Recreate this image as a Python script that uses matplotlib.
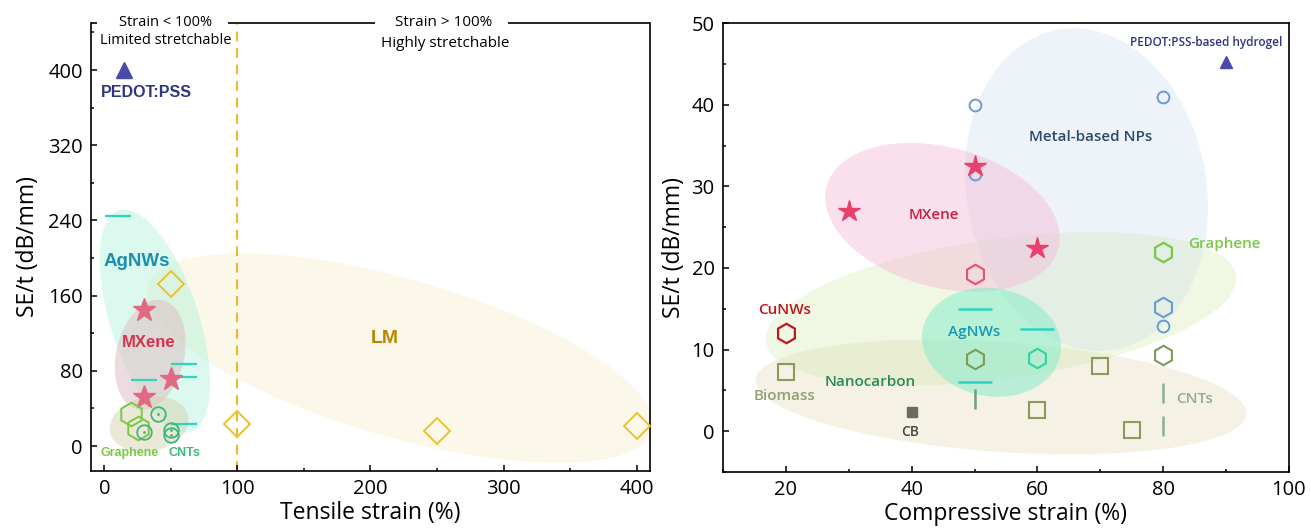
import matplotlib
matplotlib.use("Agg")
import matplotlib.pyplot as plt
from matplotlib.patches import Ellipse
from matplotlib.transforms import ScaledTranslation
from matplotlib.ticker import MultipleLocator

# ---- left panel: tensile strain ----
t_pedot_x = [15]
t_pedot_y = [400]
t_agnw_x = [10, 60, 60, 30, 60]
t_agnw_y = [245, 87, 74, 70, 24]
t_lm_x = [50, 100, 250, 400]
t_lm_y = [172, 24, 16, 21]
t_mxene_x = [30, 50, 30]
t_mxene_y = [145, 71, 52]
t_graphene_x = [20, 25]
t_graphene_y = [34, 19]
t_cnt_x = [40, 30, 50, 50]
t_cnt_y = [34, 15, 17, 12]
t_xticks = [0, 100, 200, 300, 400]
t_yticks = [0, 80, 160, 240, 320, 400]

# ---- right panel: compressive strain ----
c_pedot_x = [90]
c_pedot_y = [45.2]
c_metal_x = [50, 50, 80, 80]
c_metal_y = [40, 31.5, 41, 12.9]
c_metal_hex_x = [80]
c_metal_hex_y = [15.2]
c_mxene_x = [30, 50, 60]
c_mxene_y = [27, 32.5, 22.4]
c_mxene_hex_x = [50]
c_mxene_hex_y = [19.2]
c_cunw_x = [20]
c_cunw_y = [12]
c_biomass_x = [20]
c_biomass_y = [7.2]
c_cb_x = [40]
c_cb_y = [2.3]
c_agnw_x = [50, 60, 50]
c_agnw_y = [15, 12.5, 6]
c_nano_hex_x = [50, 80]
c_nano_hex_y = [8.9, 9.3]
c_teal_hex_x = [60]
c_teal_hex_y = [9.0]
c_nano_sq_x = [60, 70, 75]
c_nano_sq_y = [2.6, 8, 0.2]
c_nano_bar_x = [50]
c_nano_bar_y = [3.9]
c_graphene_x = [80]
c_graphene_y = [22]
c_cnt_x = [80, 80]
c_cnt_y = [4.7, 0.7]
c_xticks = [20, 40, 60, 80, 100]
c_yticks = [0, 10, 20, 30, 40, 50]

TICKFONT = "Open Sans"
BOLDFONT = "Liberation Sans"

fig = plt.figure(figsize=(13.11, 5.31), dpi=100)
axL = fig.add_axes([0.0694, 0.113, 0.4264, 0.8437])
axR = fig.add_axes([0.5515, 0.111, 0.4317, 0.8456])


def blob(ax, x, y, w, h, angle, color, alpha):
    # ellipse centred on a data point, size given in pixels so it keeps its shape
    trans = fig.dpi_scale_trans + ScaledTranslation(x, y, ax.transData)
    e = Ellipse((0, 0), w / 100, h / 100, angle=angle, transform=trans,
                facecolor=color, edgecolor="none", alpha=alpha, zorder=0)
    ax.add_patch(e)


def style(ax, xticks, yticks, xminor, yminor):
    for s in ax.spines.values():
        s.set_linewidth(1.2)
    ax.set_xticks(xticks)
    ax.set_yticks(yticks)
    ax.xaxis.set_minor_locator(MultipleLocator(xminor))
    ax.yaxis.set_minor_locator(MultipleLocator(yminor))
    ax.tick_params(which="both", direction="in", width=1.1, top=False, right=False)
    ax.tick_params(which="major", length=4.5, pad=6)
    ax.tick_params(which="minor", length=2.5)
    for lab in ax.get_xticklabels() + ax.get_yticklabels():
        lab.set_fontfamily(TICKFONT)
        lab.set_fontsize(14.5)


# ================= left =================
ax = axL
ax.set_xlim(-10, 410)
ax.set_ylim(-26.5, 450)
style(ax, t_xticks, t_yticks, 50, 40)
ax.spines["top"].set_visible(False)
for a, b in [(0, 0.011), (0.245, 0.508), (0.746, 1.0)]:
    ax.plot([a, b], [1, 1], color="black", lw=1.2, transform=ax.transAxes,
            clip_on=False, solid_capstyle="butt")

blob(ax, 222, 93.5, 525, 158, -16, "#F8E8B8", 0.3)
blob(ax, 38, 133, 233, 88, -72, "#A8F0D8", 0.4)
blob(ax, 34.5, 97, 112, 68, 77, "#DDBBC0", 0.5)
blob(ax, 33.7, 23.4, 80, 54, 12, "#D6D3AE", 0.5)

ax.axvline(100, color="#F2B51E", lw=1.4, ls=(0, (5, 3.5)), zorder=1)

ax.plot(t_pedot_x, t_pedot_y, "^", color="#4A4AAE", ms=11, zorder=3)
ax.plot(t_agnw_x, t_agnw_y, "_", color="#2DD4C0", ms=19, mew=1.6, zorder=3)
ax.plot(t_lm_x, t_lm_y, "D", mfc="none", mec="#EBC12E", ms=13, mew=1.4, zorder=3)
ax.plot(t_mxene_x, t_mxene_y, "*", color="#E06A84", ms=17, zorder=3)
ax.plot(t_graphene_x, t_graphene_y, "h", mfc="none", mec="#7AC943", ms=17, mew=1.4, zorder=3)
ax.plot(t_cnt_x, t_cnt_y, "o", mfc="none", mec="#3DB87A", ms=10.5, mew=1.3, zorder=3)
ax.plot(t_cnt_x, t_cnt_y, ".", color="#3DB87A", ms=2, zorder=3)

ax.text(31.5, 376, "PEDOT:PSS", color="#2E3580", fontsize=11.5, fontweight="bold",
        family=BOLDFONT, ha="center", va="center")
ax.text(24.7, 196, "AgNWs", color="#1A8FAF", fontsize=13.5, fontweight="bold",
        family=BOLDFONT, ha="center", va="center")
ax.text(33, 110, "MXene", color="#D6334F", fontsize=12, fontweight="bold",
        family=BOLDFONT, ha="center", va="center")
ax.text(18.7, -7.4, "Graphene", color="#7AC943", fontsize=9, fontweight="bold",
        family=BOLDFONT, ha="center", va="center")
ax.text(60, -7.4, "CNTs", color="#3DB87A", fontsize=9, fontweight="bold",
        family=BOLDFONT, ha="center", va="center")
ax.text(211, 114, "LM", color="#B38A00", fontsize=14, fontweight="bold",
        family=BOLDFONT, ha="center", va="center")

ax.text(46, 450, "Strain < 100%", fontsize=10.5, family=TICKFONT, ha="center", va="center")
ax.text(46, 431, "Limited stretchable", fontsize=10.5, family=TICKFONT, ha="center", va="center")
ax.text(255, 450, "Strain > 100%", fontsize=11, family=TICKFONT, ha="center", va="center")
ax.text(256, 428, "Highly stretchable", fontsize=11, family=TICKFONT, ha="center", va="center")

ax.set_xlabel("Tensile strain (%)", fontsize=16.5, family=TICKFONT, labelpad=1)
ax.set_ylabel("SE/t (dB/mm)", fontsize=16.5, family=TICKFONT, labelpad=6)

# ================= right =================
ax = axR
ax.set_xlim(10, 100)
ax.set_ylim(-5, 50)
style(ax, c_xticks, c_yticks, 10, 5)

blob(ax, 54.2, 4.2, 492, 110, -4, "#E3D7B0", 0.33)
blob(ax, 54.2, 15.0, 475, 140, 8, "#D5EBB0", 0.35)
blob(ax, 67.8, 29.6, 325, 240, -80, "#C9D9EC", 0.3)
blob(ax, 44.9, 26.2, 240, 140, -15, "#F5B8D6", 0.45)
blob(ax, 52.7, 10.9, 140, 108, -10, "#7FEBCB", 0.5)

ax.plot(c_pedot_x, c_pedot_y, "^", color="#4A4AAE", ms=9, zorder=3)
ax.plot(c_metal_x, c_metal_y, "o", mfc="none", mec="#6A9BD1", ms=8.5, mew=1.4, zorder=3)
ax.plot(c_metal_hex_x, c_metal_hex_y, "h", mfc="none", mec="#6A9BD1", ms=14, mew=1.5, zorder=3)
ax.plot(c_mxene_x, c_mxene_y, "*", color="#E8406B", ms=16, zorder=3)
ax.plot(c_mxene_hex_x, c_mxene_hex_y, "h", mfc="none", mec="#E8506E", ms=14, mew=1.5, zorder=3)
ax.plot(c_cunw_x, c_cunw_y, "h", mfc="none", mec="#C0141E", ms=14, mew=1.6, zorder=3)
ax.plot(c_biomass_x, c_biomass_y, "s", mfc="none", mec="#8C9A5B", ms=12, mew=1.5, zorder=3)
ax.plot(c_cb_x, c_cb_y, "s", color="#6B6B60", ms=7, zorder=3)
ax.plot(c_agnw_x, c_agnw_y, "_", color="#2DD4C0", ms=24, mew=1.8, zorder=3)
ax.plot(c_nano_hex_x, c_nano_hex_y, "h", mfc="none", mec="#7C9A58", ms=14, mew=1.5, zorder=3)
ax.plot(c_teal_hex_x, c_teal_hex_y, "h", mfc="none", mec="#2ED3A8", ms=14, mew=1.5, zorder=3)
ax.plot(c_nano_sq_x, c_nano_sq_y, "s", mfc="none", mec="#8C9A5B", ms=12, mew=1.5, zorder=3)
ax.plot(c_nano_bar_x, c_nano_bar_y, "|", color="#6FA07A", ms=15, mew=1.8, zorder=3)
ax.plot(c_graphene_x, c_graphene_y, "h", mfc="none", mec="#7AC943", ms=14, mew=1.6, zorder=3)
ax.plot(c_cnt_x, c_cnt_y, "|", color="#8FB08F", ms=15, mew=1.8, zorder=3)

lab = dict(family=TICKFONT, fontsize=11, fontweight="semibold", ha="center", va="center")
ax.text(86.9, 47.6, "PEDOT:PSS-based hydrogel", color="#2E3580", **{**lab, "fontsize": 8.5})
ax.text(68.4, 36.1, "Metal-based NPs", color="#2A4A70", **lab)
ax.text(43.5, 26.5, "MXene", color="#C8203F", **lab)
ax.text(89.8, 22.9, "Graphene", color="#7AC943", **lab)
ax.text(19.8, 14.9, "CuNWs", color="#C0141E", **lab)
ax.text(50, 12.2, "AgNWs", color="#1C97B0", **lab)
ax.text(19.8, 4.3, "Biomass", color="#8FA070", **lab)
ax.text(33.4, 6.0, "Nanocarbon", color="#2A8A5A", **lab)
ax.text(39.8, -0.1, "CB", color="#444444", **{**lab, "fontsize": 10})
ax.text(85, 3.9, "CNTs", color="#8FB08F", **lab)

ax.set_xlabel("Compressive strain (%)", fontsize=16.5, family=TICKFONT, labelpad=1)
ax.set_ylabel("SE/t (dB/mm)", fontsize=16.5, family=TICKFONT, labelpad=4)

fig.savefig("out.png", dpi=100)
